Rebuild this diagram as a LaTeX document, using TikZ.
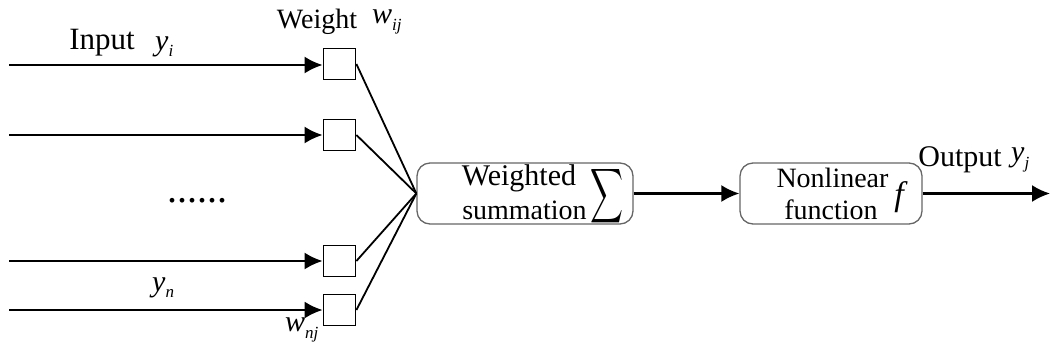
\documentclass[tikz,border=0pt]{standalone}
\usepackage{fontspec}
\setmainfont{Liberation Serif}
\usetikzlibrary{arrows.meta}
\newcommand{\mysub}[1]{\raisebox{-0.45ex}{\fontsize{17}{18}\selectfont\textit{#1}}}
\begin{document}
\begin{tikzpicture}[x=1pt,y=-1pt,
  wbox/.style={draw, line width=1.8pt, minimum width=32pt, minimum height=31pt, inner sep=0pt},
  rbox/.style={draw=black!60, line width=1.3pt, rounded corners=13pt, inner sep=0pt},
  arr/.style={line width=2.2pt, -{Latex[length=18pt,width=17pt]}},
  wire/.style={line width=1.8pt},
  lbl/.style={inner sep=0pt, font=\fontsize{30}{32}\selectfont}]
\useasboundingbox (0,0) rectangle (1051,351);
% weight boxes
\node[wbox] (w1) at (339.5,64) {};
\node[wbox] (w2) at (339.5,135) {};
\node[wbox] (w3) at (339.5,261) {};
\node[wbox] (w4) at (339.5,310) {};
% inputs
\coordinate (i1) at (9,65);
\coordinate (i2) at (9,135);
\coordinate (i3) at (9,261);
\coordinate (i4) at (9,310);
\draw[arr] (i1) -- (i1 -| w1.west);
\draw[arr] (i2) -- (i2 -| w2.west);
\draw[arr] (i3) -- (i3 -| w3.west);
\draw[arr] (i4) -- (i4 -| w4.west);
% summation and nonlinear boxes
\node[rbox, minimum width=216pt, minimum height=61pt] (sum) at (525,193.5) {};
\node[rbox, minimum width=182pt, minimum height=61pt] (nl) at (831,193.5) {};
\coordinate (out) at (1050,193.5);
\draw[wire] (w1.east) -- (sum.west);
\draw[wire] (w2.east) -- (sum.west);
\draw[wire] (w3.east) -- (sum.west);
\draw[wire] (w4.east) -- (sum.west);
\draw[arr] (sum.east) -- (nl.west);
\draw[arr] (nl.east) -- (out);
% labels
\node[lbl, font=\fontsize{31}{33}\selectfont] (tin) at (102,43) {Input};
\node[lbl, anchor=west] (tyi) at (155,47) {\textit{y}\mysub{i}};
\node[lbl, font=\fontsize{28}{30}\selectfont] (twt) at (317,22) {Weight};
\node[lbl, anchor=west] (twij) at (372,22) {\textit{w}\mysub{ij}};
\node[lbl, font=\fontsize{40}{40}\selectfont, anchor=base] (dots) at (197.5,202) {......};
\node[lbl, anchor=west] (tyn) at (152,288) {\textit{y}\mysub{n}};
\node[lbl, anchor=west] (twnj) at (285,330) {\textit{w}\mysub{nj}};
\node[lbl] (tws) at (519,178) {Weighted};
\node[lbl, font=\fontsize{28}{30}\selectfont] (tsm) at (524.5,210) {summation};
\node[inner sep=0pt] (sig) at (607,196) {\resizebox{33pt}{40pt}{$\displaystyle\sum$}};
\node[lbl, font=\fontsize{28}{30}\selectfont] (tnl) at (832.5,178) {Nonlinear};
\node[lbl, font=\fontsize{28}{30}\selectfont] (tfn) at (831,210) {function};
\node[lbl, font=\fontsize{34}{36}\selectfont] (tf) at (901,197) {\textit{f}};
\node[lbl] (tout) at (960,160) {Output};
\node[lbl, anchor=west] (tyj) at (1011,160) {\textit{y}\mysub{j}};
\end{tikzpicture}
\end{document}
